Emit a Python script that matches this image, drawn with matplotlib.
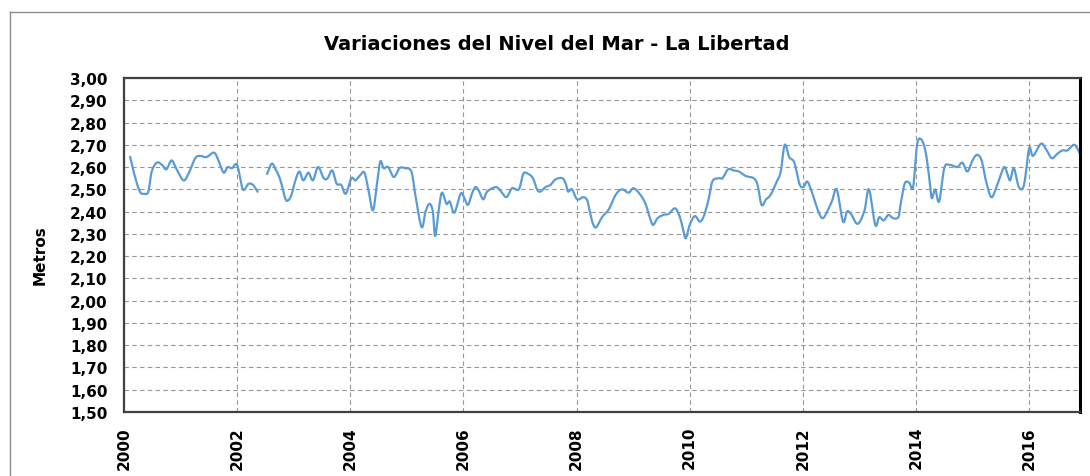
import matplotlib

matplotlib.use("Agg")
import matplotlib.pyplot as plt
import numpy as np
from matplotlib.lines import Line2D
from matplotlib.ticker import FuncFormatter, MultipleLocator

TITLE = "Variaciones del Nivel del Mar - La Libertad"
Y_LABEL = "Metros"

# decimal year, sea level (m); NaN marks the gap in 2002
YEARS = [
    2000.11, 2000.19, 2000.28, 2000.35, 2000.43, 2000.49, 2000.58, 2000.67,
    2000.75, 2000.84, 2000.93, 2001.05, 2001.14, 2001.26, 2001.35, 2001.46,
    2001.59, 2001.67, 2001.76, 2001.83, 2001.91, 2002.00, 2002.10, 2002.20,
    2002.28, 2002.36, 2002.45, 2002.53, 2002.61, 2002.67, 2002.76, 2002.85,
    2002.90, 2002.96, 2003.03, 2003.10, 2003.17, 2003.26, 2003.34, 2003.43,
    2003.53, 2003.60, 2003.68, 2003.76, 2003.84, 2003.92, 2004.02, 2004.09,
    2004.18, 2004.25, 2004.32, 2004.40, 2004.47, 2004.53, 2004.59, 2004.67,
    2004.77, 2004.87, 2004.97, 2005.08, 2005.15, 2005.26, 2005.33, 2005.40,
    2005.46, 2005.50, 2005.56, 2005.62, 2005.70, 2005.76, 2005.84, 2005.95,
    2006.01, 2006.08, 2006.15, 2006.21, 2006.27, 2006.35, 2006.42, 2006.57,
    2006.65, 2006.76, 2006.86, 2006.98, 2007.06, 2007.14, 2007.23, 2007.30,
    2007.36, 2007.45, 2007.54, 2007.63, 2007.75, 2007.81, 2007.85, 2007.92,
    2008.01, 2008.12, 2008.19, 2008.23, 2008.29, 2008.35, 2008.45, 2008.57,
    2008.69, 2008.80, 2008.92, 2009.01, 2009.13, 2009.22, 2009.28, 2009.35,
    2009.43, 2009.53, 2009.63, 2009.74, 2009.82, 2009.88, 2009.93, 2010.00,
    2010.09, 2010.18, 2010.25, 2010.33, 2010.40, 2010.51, 2010.58, 2010.68,
    2010.78, 2010.87, 2010.99, 2011.13, 2011.20, 2011.27, 2011.35, 2011.43,
    2011.54, 2011.61, 2011.68, 2011.76, 2011.85, 2011.94, 2012.01, 2012.08,
    2012.17, 2012.26, 2012.35, 2012.45, 2012.52, 2012.60, 2012.71, 2012.78,
    2012.85, 2012.97, 2013.09, 2013.17, 2013.28, 2013.35, 2013.43, 2013.51,
    2013.60, 2013.69, 2013.72, 2013.80, 2013.88, 2013.95, 2014.02, 2014.09,
    2014.17, 2014.24, 2014.28, 2014.34, 2014.41, 2014.50, 2014.59, 2014.73,
    2014.82, 2014.91, 2015.00, 2015.08, 2015.16, 2015.24, 2015.33, 2015.41,
    2015.50, 2015.57, 2015.66, 2015.73, 2015.82, 2015.91, 2016.00, 2016.07,
    2016.21, 2016.30, 2016.40, 2016.50, 2016.59, 2016.68, 2016.80, 2016.90,
]
LEVELS = [
    2.645, 2.56, 2.49, 2.48, 2.49, 2.58, 2.62, 2.61,
    2.59, 2.63, 2.59, 2.54, 2.57, 2.64, 2.65, 2.645,
    2.665, 2.63, 2.575, 2.60, 2.595, 2.61, 2.50, 2.525,
    2.52, 2.49, np.nan, 2.57, 2.615, 2.595, 2.545, 2.46,
    2.45, 2.475, 2.54, 2.58, 2.54, 2.575, 2.54, 2.60,
    2.55, 2.55, 2.585, 2.525, 2.52, 2.48, 2.55, 2.54,
    2.565, 2.575, 2.50, 2.405, 2.52, 2.625, 2.595, 2.60,
    2.555, 2.595, 2.595, 2.58, 2.475, 2.33, 2.40, 2.435,
    2.40, 2.29, 2.40, 2.485, 2.435, 2.445, 2.395, 2.48,
    2.465, 2.43, 2.48, 2.51, 2.495, 2.455, 2.49, 2.51,
    2.495, 2.465, 2.505, 2.50, 2.57, 2.57, 2.55, 2.50,
    2.49, 2.51, 2.52, 2.545, 2.55, 2.525, 2.49, 2.50,
    2.455, 2.465, 2.45, 2.405, 2.345, 2.33, 2.375, 2.41,
    2.475, 2.50, 2.485, 2.505, 2.475, 2.435, 2.385, 2.34,
    2.37, 2.385, 2.39, 2.415, 2.38, 2.325, 2.28, 2.34,
    2.38, 2.355, 2.38, 2.45, 2.535, 2.55, 2.55, 2.59,
    2.585, 2.58, 2.56, 2.55, 2.52, 2.43, 2.455, 2.475,
    2.535, 2.58, 2.70, 2.645, 2.62, 2.525, 2.51, 2.535,
    2.48, 2.41, 2.37, 2.41, 2.45, 2.50, 2.355, 2.40,
    2.39, 2.345, 2.405, 2.50, 2.34, 2.375, 2.36, 2.385,
    2.37, 2.375, 2.42, 2.525, 2.53, 2.51, 2.70, 2.725,
    2.67, 2.54, 2.46, 2.50, 2.445, 2.595, 2.61, 2.60,
    2.62, 2.58, 2.63, 2.655, 2.63, 2.535, 2.465, 2.50,
    2.565, 2.60, 2.54, 2.595, 2.51, 2.52, 2.685, 2.65,
    2.705, 2.68, 2.64, 2.66, 2.675, 2.675, 2.70, 2.66,
]
X_TICKS = [2000, 2002, 2004, 2006, 2008, 2010, 2012, 2014, 2016]

FONT = "DejaVu Sans"
LINE_COLOR = "#5B9BD5"


def _smooth(x, y, steps=8):
    """Catmull-Rom curve through the points, like Excel's smoothed line."""
    x = np.asarray(x, float)
    y = np.asarray(y, float)
    px = np.concatenate([[x[0]], x, [x[-1]]])
    py = np.concatenate([[y[0]], y, [y[-1]]])
    t = np.linspace(0, 1, steps, endpoint=False)[:, None]
    xs, ys = [], []
    for arr, out in ((px, xs), (py, ys)):
        p0, p1, p2, p3 = arr[:-3], arr[1:-2], arr[2:-1], arr[3:]
        seg = 0.5 * (2 * p1 + (p2 - p0) * t + (2 * p0 - 5 * p1 + 4 * p2 - p3) * t**2
                     + (3 * p1 - p0 - 3 * p2 + p3) * t**3)
        out.append(np.concatenate([seg.T.ravel(), arr[-2:-1]]))
    return xs[0], ys[0]


fig = plt.figure(figsize=(10.9, 4.77), dpi=100)
ax = fig.add_axes([124 / 1090, 1 - 413 / 477, (1080 - 124) / 1090, (413 - 79) / 477])

years = np.array(YEARS)
levels = np.array(LEVELS)
gaps = np.flatnonzero(np.isnan(levels))
for part_x, part_y in zip(np.split(years, gaps), np.split(levels, gaps)):
    keep = ~np.isnan(part_y)
    sx, sy = _smooth(part_x[keep], part_y[keep])
    ax.plot(sx, sy, color=LINE_COLOR, lw=1.6, solid_joinstyle="round")

ax.set_xlim(2000, 2016.9)
ax.set_ylim(1.5, 3.0)
ax.set_xticks(X_TICKS)
ax.yaxis.set_major_locator(MultipleLocator(0.1))
ax.yaxis.set_major_formatter(FuncFormatter(lambda v, _: f"{v:.2f}".replace(".", ",")))

ax.grid(True, color="#969696", lw=0.8, ls=(0, (4, 3)))
ax.set_axisbelow(True)
ax.tick_params(axis="both", length=0, labelsize=11)
ax.tick_params(axis="y", pad=12)
ax.tick_params(axis="x", pad=10, labelrotation=90)
for label in ax.get_xticklabels() + ax.get_yticklabels():
    label.set_fontweight("bold")
    label.set_fontfamily(FONT)

for name in ["left", "bottom", "top"]:
    ax.spines[name].set_color("#404040")
    ax.spines[name].set_linewidth(1.6)
ax.spines["right"].set_color("black")
ax.spines["right"].set_linewidth(2.2)

fig.text(557 / 1090, 1 - 45 / 477, TITLE, ha="center", va="center",
         fontsize=14, fontweight="bold", family=FONT)
fig.text(40 / 1090, 1 - 255 / 477, Y_LABEL, ha="center", va="center",
         rotation=90, fontsize=11, fontweight="bold", family=FONT)

# outer chart frame (left and top edges visible)
fig.add_artist(Line2D([10 / 1090, 10 / 1090], [0, 1 - 13 / 477],
                      transform=fig.transFigure, color="#8c8c8c", lw=1))
fig.add_artist(Line2D([10 / 1090, 1], [1 - 13 / 477, 1 - 13 / 477],
                      transform=fig.transFigure, color="#8c8c8c", lw=1))

fig.savefig("out.png", dpi=100)
plt.close(fig)
